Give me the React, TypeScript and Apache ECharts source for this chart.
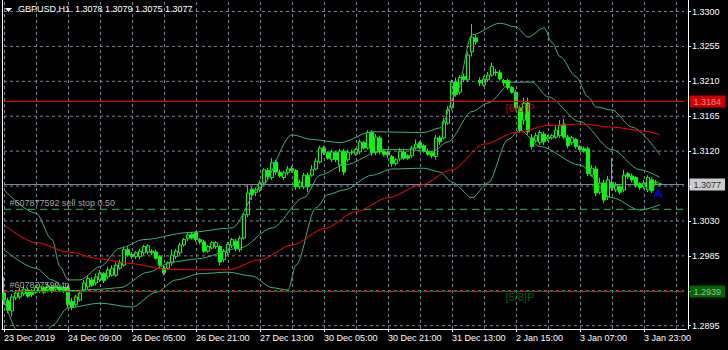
import React, { useEffect, useRef } from "react";
import * as echarts from "echarts";

const FONT = "Liberation Sans";
const tickLabels = ["23 Dec 2019", "24 Dec 09:00", "26 Dec 05:00", "26 Dec 21:00", "27 Dec 13:00", "30 Dec 05:00", "30 Dec 21:00", "31 Dec 13:00", "2 Jan 15:00", "3 Jan 07:00", "3 Jan 23:00"];
const slotCount = 171;

const opens = [1.2937,1.2927,1.2914,1.2931,1.2932,1.2936,1.2941,1.2940,1.2938,1.2940,
1.2944,1.2941,1.2945,1.2942,1.2945,1.2944,1.2944,1.2926,1.2922,1.2928,
1.2941,1.2945,1.2954,1.2950,1.2954,1.2962,1.2958,1.2960,1.2960,1.2969,
1.2973,1.2993,1.2987,1.2984,1.2984,1.2989,1.2990,1.2991,1.2990,1.2984,
1.2969,1.2969,1.2976,1.2984,1.2989,1.2999,1.3007,1.3013,1.3015,1.3006,
1.3003,1.2991,1.2995,1.2997,1.2997,1.2980,1.2989,1.2998,1.3004,1.2993,
1.3008,1.3038,1.3071,1.3067,1.3070,1.3079,1.3095,1.3086,1.3106,1.3093,
1.3086,1.3092,1.3098,1.3095,1.3074,1.3074,1.3089,1.3089,1.3097,1.3106,
1.3124,1.3118,1.3109,1.3118,1.3102,1.3120,1.3109,1.3118,1.3116,1.3119,
1.3131,1.3124,1.3144,1.3118,1.3137,1.3120,1.3119,1.3113,1.3104,1.3110,
1.3119,1.3114,1.3114,1.3124,1.3131,1.3127,1.3120,1.3118,1.3113,1.3137,
1.3137,1.3156,1.3176,1.3209,1.3196,1.3216,1.3212,1.3248,1.3266,1.3211,
1.3205,1.3212,1.3218,1.3222,1.3221,1.3211,1.3211,1.3202,1.3196,1.3176,
1.3160,1.3182,1.3137,1.3133,1.3131,1.3142,1.3136,1.3137,1.3138,1.3140,
1.3155,1.3138,1.3131,1.3135,1.3126,1.3123,1.3123,1.3089,1.3097,1.3067,
1.3079,1.3061,1.3080,1.3070,1.3074,1.3070,1.3091,1.3088,1.3086,1.3078,
1.3074,1.3070,1.3083,1.3079,1.3078];
const closes = [1.2928,1.2915,1.2932,1.2937,1.2940,1.2942,1.2933,1.2935,1.2944,1.2945,
1.2938,1.2946,1.2940,1.2946,1.2941,1.2940,1.2922,1.2919,1.2932,1.2937,
1.2950,1.2956,1.2947,1.2958,1.2963,1.2953,1.2967,1.2969,1.2973,1.2976,
1.2993,1.2986,1.2984,1.2989,1.2991,1.2997,1.2998,1.2989,1.2982,1.2973,
1.2963,1.2976,1.2986,1.2991,1.2999,1.3006,1.3012,1.3008,1.3006,1.3003,
1.2991,1.2997,1.3002,1.3002,1.2977,1.2991,1.3000,1.3006,1.2994,1.3008,
1.3038,1.3066,1.3064,1.3070,1.3079,1.3096,1.3087,1.3105,1.3093,1.3088,
1.3092,1.3097,1.3095,1.3074,1.3080,1.3089,1.3074,1.3096,1.3107,1.3124,
1.3118,1.3111,1.3119,1.3109,1.3120,1.3093,1.3118,1.3119,1.3122,1.3132,
1.3124,1.3144,1.3118,1.3138,1.3119,1.3116,1.3115,1.3104,1.3109,1.3120,
1.3111,1.3111,1.3124,1.3129,1.3124,1.3120,1.3116,1.3114,1.3137,1.3132,
1.3158,1.3173,1.3209,1.3193,1.3215,1.3212,1.3244,1.3267,1.3261,1.3208,
1.3213,1.3218,1.3229,1.3221,1.3213,1.3208,1.3202,1.3196,1.3176,1.3147,
1.3182,1.3145,1.3126,1.3140,1.3144,1.3132,1.3138,1.3140,1.3147,1.3153,
1.3138,1.3127,1.3137,1.3126,1.3122,1.3120,1.3091,1.3098,1.3066,1.3079,
1.3057,1.3083,1.3073,1.3076,1.3067,1.3089,1.3087,1.3083,1.3076,1.3073,
1.3079,1.3086,1.3069,1.3080,1.3077];
const lows = [1.2922,1.2911,1.2907,1.2928,1.2929,1.2933,1.2931,1.2932,1.2936,1.2937,
1.2936,1.2938,1.2937,1.2940,1.2938,1.2937,1.2918,1.2915,1.2919,1.2926,
1.2938,1.2942,1.2945,1.2947,1.2951,1.2950,1.2955,1.2958,1.2958,1.2967,
1.2971,1.2984,1.2981,1.2981,1.2981,1.2986,1.2987,1.2986,1.2980,1.2971,
1.2960,1.2967,1.2972,1.2981,1.2986,1.2997,1.3004,1.3006,1.3003,1.3000,
1.2989,1.2989,1.2993,1.2994,1.2973,1.2977,1.2986,1.2995,1.2991,1.2990,
1.3006,1.3035,1.3057,1.3062,1.3067,1.3076,1.3083,1.3083,1.3089,1.3086,
1.3083,1.3089,1.3092,1.3070,1.3071,1.3071,1.3067,1.3087,1.3095,1.3104,
1.3115,1.3109,1.3106,1.3106,1.3093,1.3089,1.3106,1.3115,1.3114,1.3116,
1.3122,1.3122,1.3114,1.3115,1.3116,1.3113,1.3111,1.3100,1.3101,1.3107,
1.3109,1.3109,1.3111,1.3122,1.3122,1.3118,1.3114,1.3111,1.3109,1.3128,
1.3135,1.3154,1.3173,1.3190,1.3193,1.3209,1.3209,1.3242,1.3257,1.3204,
1.3203,1.3209,1.3216,1.3217,1.3211,1.3204,1.3199,1.3194,1.3173,1.3144,
1.3154,1.3141,1.3122,1.3131,1.3128,1.3128,1.3133,1.3135,1.3136,1.3137,
1.3136,1.3124,1.3128,1.3123,1.3119,1.3118,1.3088,1.3087,1.3062,1.3064,
1.3053,1.3057,1.3069,1.3067,1.3064,1.3067,1.3084,1.3080,1.3073,1.3070,
1.3071,1.3067,1.3066,1.3076,1.3075];
const highs = [1.2958,1.2931,1.2936,1.2941,1.2944,1.2946,1.2944,1.2942,1.2947,1.2949,
1.2946,1.2950,1.2947,1.2950,1.2947,1.2946,1.2947,1.2931,1.2935,1.2940,
1.2954,1.2959,1.2958,1.2962,1.2967,1.2964,1.2971,1.2973,1.2977,1.2980,
1.2997,1.2997,1.2990,1.2991,1.2994,1.2999,1.3000,1.2994,1.2993,1.2986,
1.2973,1.2978,1.2993,1.2994,1.3002,1.3008,1.3015,1.3016,1.3017,1.3008,
1.3006,1.2999,1.3004,1.3004,1.2999,1.2994,1.3003,1.3008,1.3007,1.3011,
1.3040,1.3076,1.3074,1.3073,1.3083,1.3098,1.3098,1.3111,1.3109,1.3096,
1.3095,1.3101,1.3101,1.3097,1.3083,1.3092,1.3092,1.3102,1.3111,1.3127,
1.3127,1.3120,1.3122,1.3120,1.3123,1.3123,1.3122,1.3122,1.3124,1.3135,
1.3133,1.3147,1.3147,1.3142,1.3140,1.3123,1.3122,1.3115,1.3111,1.3124,
1.3122,1.3116,1.3127,1.3135,1.3133,1.3129,1.3123,1.3120,1.3141,1.3140,
1.3163,1.3178,1.3212,1.3215,1.3218,1.3220,1.3248,1.3284,1.3270,1.3215,
1.3217,1.3222,1.3234,1.3226,1.3225,1.3213,1.3213,1.3204,1.3199,1.3178,
1.3189,1.3189,1.3142,1.3144,1.3147,1.3145,1.3141,1.3142,1.3153,1.3160,
1.3162,1.3141,1.3140,1.3137,1.3128,1.3126,1.3126,1.3102,1.3101,1.3086,
1.3083,1.3088,1.3111,1.3080,1.3078,1.3096,1.3093,1.3091,1.3088,1.3080,
1.3083,1.3089,1.3086,1.3083,1.3079];

const upperIdx = [0, 8, 12, 14, 16, 19, 24, 29, 35, 46, 57, 64, 72, 77, 84, 92, 105, 109, 113, 117, 124, 128, 131, 135, 137, 139, 143, 146, 148, 152, 157, 164];
const bbUpper = [1.3070,1.3040,1.3006,1.2971,1.2954,1.2954,1.2971,1.2995,1.3006,1.3015,1.3021,1.3073,1.3141,1.3135,1.3131,1.3145,1.3144,1.3150,1.3193,1.3270,1.3285,1.3280,1.3267,1.3279,1.3260,1.3242,1.3216,1.3190,1.3177,1.3173,1.3151,1.3115];
const middleIdx = [0, 8, 12, 16, 24, 29, 36, 42, 48, 59, 67, 75, 79, 85, 95, 101, 107, 111, 117, 121, 127, 132, 136, 144, 152, 159, 164];
const bbMiddle = [1.2993,1.2969,1.2954,1.2940,1.2942,1.2944,1.2964,1.2977,1.2981,1.2995,1.3021,1.3060,1.3089,1.3102,1.3122,1.3122,1.3119,1.3132,1.3171,1.3182,1.3209,1.3209,1.3190,1.3158,1.3122,1.3096,1.3086];
const lowerIdx = [0, 4, 9, 12, 16, 24, 32, 38, 43, 49, 56, 62, 67, 71, 73, 78, 81, 85, 92, 97, 105, 109, 112, 117, 121, 126, 129, 134, 144, 152, 159, 164];
const bbLower = [1.2928,1.2883,1.2870,1.2895,1.2918,1.2924,1.2919,1.2938,1.2954,1.2962,1.2964,1.2959,1.2944,1.2941,1.2973,1.3047,1.3064,1.3070,1.3089,1.3097,1.3098,1.3093,1.3080,1.3060,1.3079,1.3135,1.3147,1.3126,1.3102,1.3060,1.3044,1.3051];
const maIdx = [0, 8, 16, 24, 32, 40, 48, 56, 64, 72, 80, 88, 96, 104, 112, 120, 128, 136, 144, 152, 160, 164];
const maRed = [1.3025,1.3002,1.2990,1.2981,1.2975,1.2968,1.2967,1.2967,1.2980,1.2999,1.3020,1.3042,1.3060,1.3076,1.3096,1.3129,1.3144,1.3153,1.3155,1.3151,1.3146,1.3141];

const priceTicks = [1.2895, 1.294, 1.2985, 1.303, 1.3075, 1.312, 1.3165, 1.321, 1.3255, 1.33];
const priceLabelTicks = [1.2895, 1.2985, 1.303, 1.312, 1.3165, 1.321, 1.3255, 1.33];
const yMin = 1.289072;
const yMax = 1.331485;

const resistLine = 1.3184;
const bidLine = 1.3077;
const sellStopLine = 1.3045;
const tpLine = 1.2939;

export default function App() {
  const ref = useRef<HTMLDivElement>(null);
  useEffect(() => {
    if (!ref.current) return;
    document.body.style.margin = "0";
    const chart = echarts.init(ref.current, null, { renderer: "svg" });
    const lastSlot = slotCount - 1;
    const categories = Array.from({ length: slotCount }, (_, i) =>
      i % 16 === 0 && tickLabels[i / 16] ? tickLabels[i / 16] : "b" + i
    );
    const candles = opens.map((o, i) => [o, closes[i], lows[i], highs[i]]);
    const pairs = (idx: number[], arr: number[]) => idx.map((x, k) => [x, arr[k]]);
    const vLines = [];
    for (let i = 0; i < slotCount; i += 8) vLines.push({ xAxis: i });
    const gridSegs: any[] = [];
    priceTicks.forEach((v) => {
      gridSegs.push([0, v], [lastSlot, v], [lastSlot, null]);
    });
    const curve = (name: string, idx: number[], arr: number[], color: string) => ({
      name,
      type: "line",
      data: pairs(idx, arr),
      showSymbol: false,
      symbol: "none",
      smooth: 0.3,
      smoothMonotone: "x",
      silent: true,
      z: 4,
      lineStyle: { color, width: 1 },
    });
    const hLine = (name: string, v: number, color: string, type: any, z: number) => ({
      name,
      type: "line",
      data: [[0, v], [lastSlot, v]],
      showSymbol: false,
      symbol: "none",
      silent: true,
      z,
      lineStyle: { color, width: 1, type },
    });
    const textPoint = (x: number, y: number, text: string, color: string, size: number) => ({
      value: [x, y],
      label: { show: true, position: "right", distance: 1, formatter: text, color, fontSize: size, fontFamily: FONT },
    });
    const boxPoint = (v: number, bg: string, color: string) => ({
      value: [lastSlot, v],
      label: {
        show: true,
        position: "right",
        distance: 5,
        formatter: v.toFixed(4),
        backgroundColor: bg,
        color,
        padding: [2, 4, 1, 4],
        fontSize: 9,
        fontFamily: FONT,
      },
    });

    chart.setOption({
      animation: false,
      backgroundColor: "#000000",
      title: {
        text: "GBPUSD,H1  1.3078 1.3079 1.3075 1.3077",
        left: 18,
        top: 4,
        padding: 0,
        textStyle: { color: "#ffffff", fontSize: 9, fontWeight: "normal", fontFamily: FONT },
      },
      graphic: [
        { type: "polygon", shape: { points: [[5, 8], [12, 8], [8.5, 12]] }, style: { fill: "#ffffff" } },
      ],
      grid: { left: 2, width: 684, top: 0, height: 329 },
      xAxis: {
        type: "category",
        data: categories,
        boundaryGap: true,
        axisLine: { lineStyle: { color: "#ffffff", width: 1 } },
        axisTick: { show: true, interval: 15, alignWithLabel: true, length: 3, lineStyle: { color: "#ffffff" } },
        axisLabel: { interval: 15, align: "left", color: "#ffffff", fontSize: 9, fontFamily: FONT, margin: 4 },
        splitLine: { show: false },
      },
      yAxis: [
        {
          type: "value",
          position: "right",
          offset: 2,
          min: yMin,
          max: yMax,
          axisLine: { show: true, lineStyle: { color: "#ffffff", width: 1 } },
          axisTick: { show: true, length: 3, lineStyle: { color: "#ffffff" }, customValues: priceTicks },
          axisLabel: {
            color: "#ffffff",
            fontSize: 9,
            fontFamily: FONT,
            margin: 4,
            customValues: priceLabelTicks,
            formatter: (v: number) => v.toFixed(4),
          },
          splitLine: { show: false },
        },
        {
          type: "value",
          position: "left",
          min: yMin,
          max: yMax,
          axisLine: { show: true, lineStyle: { color: "#ffffff", width: 1 } },
          axisTick: { show: false },
          axisLabel: { show: false },
          splitLine: { show: false },
        },
      ],
      series: [
        {
          name: "hgrid",
          type: "line",
          data: gridSegs,
          showSymbol: false,
          symbol: "none",
          connectNulls: false,
          silent: true,
          z: 1,
          lineStyle: { color: "#778899", width: 1, type: [3, 3] },
          markLine: {
            silent: true,
            symbol: "none",
            animation: false,
            label: { show: false },
            lineStyle: { color: "#778899", width: 1, type: [3, 3] },
            data: vLines,
          },
        },
        {
          name: "GBPUSD",
          type: "candlestick",
          data: candles,
          barWidth: 3,
          z: 3,
          silent: true,
          itemStyle: {
            color: "#000000",
            color0: "#00ff00",
            borderColor: "#00ff00",
            borderColor0: "#00ff00",
            borderWidth: 1,
          },
        },
        curve("upper", upperIdx, bbUpper, "#3cb371"),
        curve("middle", middleIdx, bbMiddle, "#3cb371"),
        curve("lower", lowerIdx, bbLower, "#3cb371"),
        curve("ma", maIdx, maRed, "#ff0000"),
        hLine("resist", resistLine, "#ff0000", "solid", 5),
        hLine("bid", bidLine, "#778899", "solid", 2),
        hLine("sellstop", sellStopLine, "#3cb44b", [7, 5], 5),
        hLine("tp", tpLine, "#008000", "solid", 5),
        hLine("tpdash", tpLine, "#ff0000", [6, 6], 5),
        {
          name: "boxes",
          type: "scatter",
          symbolSize: 1,
          silent: true,
          clip: false,
          z: 7,
          itemStyle: { color: "rgba(0,0,0,0)" },
          data: [
            boxPoint(resistLine, "#ff0000", "#ffb0b0"),
            boxPoint(bidLine, "#ffffff", "#000000"),
            boxPoint(tpLine, "#008000", "#d0d0d0"),
          ],
        },
        {
          name: "texts",
          type: "scatter",
          symbolSize: 1,
          silent: true,
          z: 6,
          itemStyle: { color: "rgba(0,0,0,0)" },
          data: [
            textPoint(1, 1.3053, "#607877592 sell stop 0.50", "#d0d0d0", 9),
            textPoint(1, 1.2947, "#607877592 tp", "#d0d0d0", 9),
            textPoint(125, 1.3176, "[6/6]P", "#e00000", 11),
            textPoint(125, 1.2932, "[5/8]P", "#007a00", 11),
          ],
        },
        {
          name: "arrow",
          type: "scatter",
          silent: true,
          z: 6,
          symbol: "path://M5,0 L10,11 L5,8 L0,11 Z",
          symbolSize: [10, 11],
          symbolOffset: [-2, 0],
          itemStyle: { color: "#0000ff" },
          data: [[164, 1.3066]],
        },
      ],
    });
    return () => chart.dispose();
  }, []);
  return <div ref={ref} style={{ position: "absolute", left: 0, top: 0, width: 728, height: 350 }} />;
}
